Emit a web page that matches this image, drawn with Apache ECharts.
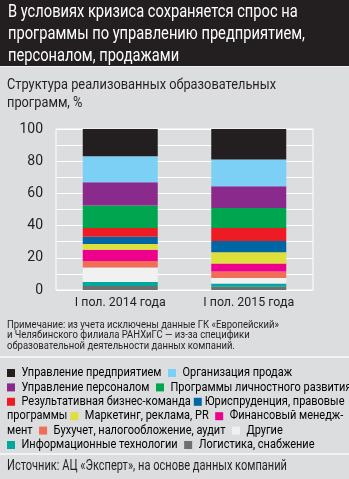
<!DOCTYPE html>
<html>
<head>
<meta charset="utf-8">
<script src="https://cdn.jsdelivr.net/npm/echarts@6/dist/echarts.min.js"></script>
<style>
html,body{margin:0;padding:0;background:#dcdddf;}
#c{width:349px;height:479px;}
</style>
</head>
<body>
<div id="c"></div>
<script>
const categories = ['I пол. 2014 года', 'I пол. 2015 года'];
// bottom-up stacking order
const seriesNames = [
  'Логистика, снабжение',
  'Информационные технологии',
  'Другие',
  'Бухучет, налогообложение, аудит',
  'Финансовый менеджмент',
  'Маркетинг, реклама, PR',
  'Юриспруденция, правовые программы',
  'Результативная бизнес-команда',
  'Программы личностного развития',
  'Управление персоналом',
  'Организация продаж',
  'Управление предприятием'
];
const values2014 = [2.5, 2.5, 9, 4, 7, 3.5, 4.5, 5.5, 14, 14.5, 16, 17];
const values2015 = [2, 2, 3.5, 4, 5, 7, 7, 8, 12.5, 13.5, 16.5, 19];
const colors = ['#6d6e70', '#00a99d', '#f1f1f2', '#f26c5a', '#ec008c', '#dde039',
                '#0066a4', '#ed1c24', '#00a550', '#8a2a8c', '#7dd0f5', '#231f20'];
const yTicks = [0, 20, 40, 60, 80, 100];

const titleLines = ['В условиях кризиса сохраняется спрос на', 'программы по управлению предприятием,', 'персоналом, продажами'];
const subtitleLines = ['Структура реализованных образовательных', 'программ, %'];
const noteLines = ['Примечание: из учета исключены данные ГК «Европейский»', 'и Челябинского филиала РАНХиГС — из-за специфики', 'образовательной деятельности данных компаний.'];
const sourceText = 'Источник: АЦ «Эксперт», на основе данных компаний';

const FF = 'Roboto, "Liberation Sans", sans-serif';
const TXT = '#231f20';

// text measuring to emulate the condensed typeface
const mctx = document.createElement('canvas').getContext('2d');
function measure(t, size) { mctx.font = size + 'px ' + FF; return mctx.measureText(t).width; }
function fitScale(t, size, target) { return target / measure(t, size); }

const series = seriesNames.map((name, i) => ({
  name: name,
  type: 'bar',
  stack: 'total',
  barWidth: 75,
  itemStyle: { color: colors[i] },
  emphasis: { disabled: true },
  data: [values2014[i], values2015[i]]
}));

// legend (flowing text as in the original)
const LEG_SIZE = 13;
const legScale = fitScale('Управление предприятием', LEG_SIZE, 140);
const ci = n => seriesNames.indexOf(n);
const sq = n => '{s' + ci(n) + '|}';
const legendLines = [
  sq('Управление предприятием') + '{g|}{t|Управление предприятием}{g|}' + sq('Организация продаж') + '{g|}{t|Организация продаж}',
  sq('Управление персоналом') + '{g|}{t|Управление персоналом}{g|}' + sq('Программы личностного развития') + '{g|}{t|Программы личностного развития}',
  sq('Результативная бизнес-команда') + '{g|}{t|Результативная бизнес-команда}{h|}' + sq('Юриспруденция, правовые программы') + '{h|}{t|Юриспруденция, правовые}',
  '{t|программы}{h|}' + sq('Маркетинг, реклама, PR') + '{g|}{t|Маркетинг, реклама, PR}{g|}' + sq('Финансовый менеджмент') + '{g|}{t|Финансовый менедж-}',
  '{t|мент}{g|}' + sq('Бухучет, налогообложение, аудит') + '{g|}{t|Бухучет, налогообложение, аудит}{g|}' + sq('Другие') + '{g|}{t|Другие}',
  sq('Информационные технологии') + '{g|}{t|Информационные технологии}{g|}' + sq('Логистика, снабжение') + '{g|}{t|Логистика, снабжение}'
];
const rich = {
  t: { fontSize: LEG_SIZE, fontFamily: FF, color: TXT, lineHeight: 14.4, verticalAlign: 'middle' },
  g: { width: 6.5 / legScale, height: 8 },
  h: { width: 3 / legScale, height: 8 }
};
colors.forEach((c, i) => {
  rich['s' + i] = { width: 8 / legScale, height: 8, backgroundColor: c, verticalAlign: 'middle' };
});

const xLabSize = Math.min(14, 14 * 91 / measure(categories[0], 14));

const chart = echarts.init(document.getElementById('c'), null, { renderer: 'canvas' });
chart.setOption({
  backgroundColor: '#dcdddf',
  animation: false,
  grid: {
    left: 56, right: 36, top: 129, bottom: 189,
    show: true, borderColor: '#ffffff', borderWidth: 1, backgroundColor: 'transparent'
  },
  xAxis: {
    type: 'category',
    data: categories,
    axisLine: { show: false },
    axisTick: { show: false },
    axisLabel: { color: TXT, fontSize: xLabSize, fontFamily: FF, margin: 7 }
  },
  yAxis: {
    type: 'value',
    min: 0, max: 100, interval: 10,
    axisLine: { show: false },
    axisTick: { show: false },
    splitLine: { lineStyle: { color: '#ffffff', width: 1 } },
    axisLabel: {
      color: TXT, fontSize: 14, fontFamily: FF, margin: 13,
      formatter: v => (yTicks.indexOf(v) >= 0 ? String(v) : '')
    }
  },
  series: series,
  graphic: [
    { type: 'rect', shape: { x: 0, y: 0, width: 349, height: 66 }, style: { fill: '#231f20' }, z: 0 },
    { type: 'rect', shape: { x: 0, y: 66, width: 349, height: 1 }, style: { fill: '#eeeeee' }, z: 0 },
    { type: 'text', x: 8, y: 2, z: 10, scaleX: fitScale(titleLines[1], 17.5, 297), style: {
        text: titleLines.join('\n'),
        fill: '#ffffff', fontSize: 17.5, fontFamily: FF, lineHeight: 22 } },
    { type: 'text', x: 7, y: 76, z: 10, scaleX: fitScale(subtitleLines[0], 15, 269), style: {
        text: subtitleLines.join('\n'),
        fill: TXT, fontSize: 15, fontFamily: FF, lineHeight: 18 } },
    { type: 'text', x: 7, y: 319.5, z: 10, scaleX: fitScale(noteLines[0], 11, 272), style: {
        text: noteLines.join('\n'),
        fill: TXT, fontSize: 11, fontFamily: FF, lineHeight: 10.5 } },
    { type: 'rect', shape: { x: 0, y: 356, width: 349, height: 2 }, style: { fill: '#f2f2f2' }, z: 0 },
    { type: 'text', x: 7, y: 365.8, z: 10, scaleX: legScale, style: {
        text: legendLines.join('\n'), rich: rich, fontSize: LEG_SIZE, fontFamily: FF, lineHeight: 14.4 } },
    { type: 'rect', shape: { x: 0, y: 453, width: 349, height: 2 }, style: { fill: '#f2f2f2' }, z: 0 },
    { type: 'text', x: 7, y: 459.5, z: 10, scaleX: fitScale(sourceText, 14, 280), style: {
        text: sourceText,
        fill: TXT, fontSize: 14, fontFamily: FF } }
  ]
});
</script>
</body>
</html>
